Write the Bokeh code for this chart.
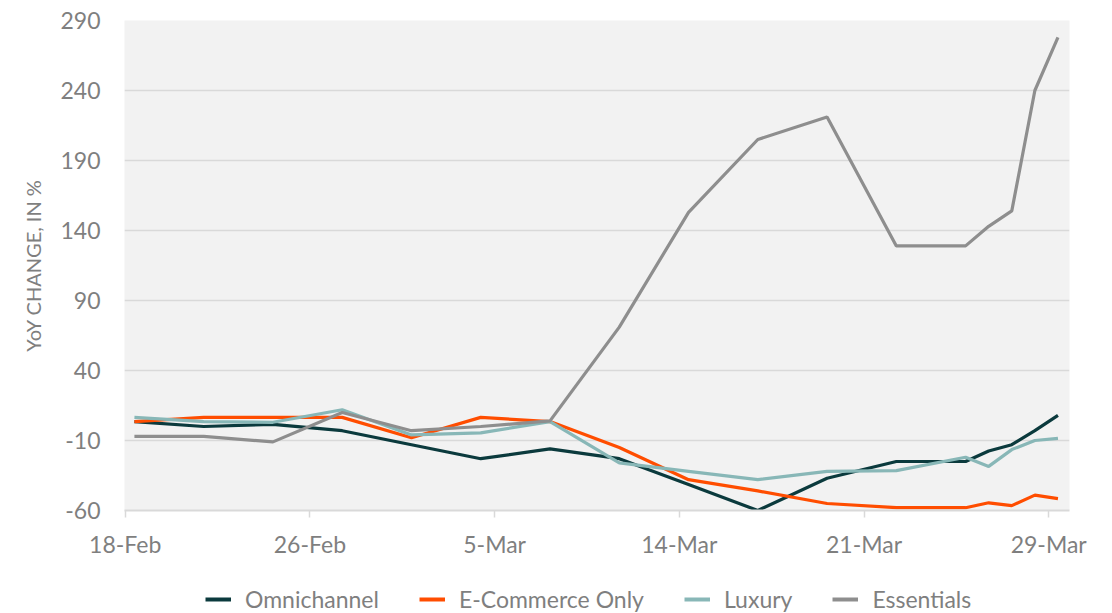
import pandas as pd
from bokeh.plotting import figure
from bokeh.layouts import column
from bokeh.models import Range1d, FixedTicker, Legend, LegendItem
from bokeh.embed import file_html
from bokeh.resources import INLINE

dates = ["2020-02-18", "2020-02-21", "2020-02-24", "2020-02-27", "2020-03-01",
         "2020-03-04", "2020-03-07", "2020-03-10", "2020-03-13", "2020-03-16",
         "2020-03-19", "2020-03-22", "2020-03-25", "2020-03-26", "2020-03-27",
         "2020-03-28", "2020-03-29"]
omnichannel = [3.5, 0, 1.5, -3, -13, -23, -16, -23, -41.5, -60, -37, -25, -25, -17.5, -13, -3, 8]
ecommerce = [3.5, 6.5, 6.5, 6.5, -8, 6.5, 3.5, -15, -38, -46, -55, -58, -58, -54.5, -56.5, -49, -51.5]
luxury = [6.5, 3.5, 3, 12, -6, -4.5, 3.5, -26, -32, -38, -32, -31.5, -22, -28.5, -16.5, -10, -8.5]
essentials = [-7, -7, -11, 10, -3, 0, 4, 71, 153, 205, 221, 129, 129, 143, 154, 240, 278]

tick_labels = ["18-Feb", "26-Feb", "5-Mar", "14-Mar", "21-Mar", "29-Mar"]
y_ticks = [-60, -10, 40, 90, 140, 190, 240, 290]

series_names = ["Omnichannel", "E-Commerce Only", "Luxury", "Essentials"]
series_colors = ["#0b3a3d", "#ff4d00", "#88b7b7", "#8e8e8e"]
series_values = [omnichannel, ecommerce, luxury, essentials]

d0 = pd.Timestamp(dates[0])
x = [(pd.Timestamp(d) - d0).days for d in dates]
tick_pos = [x[0] - 0.4 + 8 * i for i in range(len(tick_labels))]

TEXT = "#7f7f7f"
FONT = "Lato"

p = figure(width=1104, height=560, output_backend="svg", toolbar_location=None,
           x_range=Range1d(-0.43, 40.5), y_range=Range1d(-60, 290),
           background_fill_color="#f2f2f2", border_fill_color="white",
           min_border_left=124, min_border_right=35, min_border_top=20,
           min_border_bottom=47)
p.outline_line_color = None

# axes
p.xaxis.ticker = FixedTicker(ticks=tick_pos)
p.xaxis.major_label_overrides = {t: l for t, l in zip(tick_pos, tick_labels)}
p.xaxis.axis_line_color = "#d9d9d9"
p.xaxis.axis_line_width = 2
p.xaxis.major_tick_line_color = "#d9d9d9"
p.xaxis.major_tick_line_width = 1.5
p.xaxis.major_tick_in = 0
p.xaxis.major_tick_out = 7
p.xaxis.minor_tick_line_color = None
p.xaxis.major_label_standoff = 12

p.yaxis.ticker = FixedTicker(ticks=y_ticks)
p.yaxis.major_label_overrides = {v: str(v) for v in y_ticks}
p.yaxis.axis_line_color = None
p.yaxis.major_tick_line_color = None
p.yaxis.minor_tick_line_color = None
p.yaxis.major_label_standoff = 18
p.yaxis.axis_label = "YoY CHANGE, IN %"
p.yaxis.axis_label_standoff = 12
p.yaxis.axis_label_text_font_style = "normal"

for ax in (p.xaxis, p.yaxis):
    ax.major_label_text_font = FONT
    ax.major_label_text_font_size = "23px"
    ax.major_label_text_color = TEXT
    ax.axis_label_text_font = FONT
    ax.axis_label_text_font_size = "20px"
    ax.axis_label_text_color = TEXT

p.xgrid.grid_line_color = None
p.ygrid.grid_line_color = "#d9d9d9"
p.ygrid.grid_line_width = 1.5

for vals, col in zip(series_values, series_colors):
    p.line(x, vals, line_color=col, line_width=3.2)

# legend strip below the chart (its frame is aligned with the chart's frame)
lg = figure(width=1104, height=53, output_backend="svg", toolbar_location=None,
            x_range=Range1d(-0.43, 40.5), y_range=Range1d(-60, 290),
            x_axis_location=None, y_axis_location=None,
            min_border=0, border_fill_color="white", background_fill_color="white")
lg.outline_line_color = None
lg.grid.visible = False
items = []
for name, vals, col in zip(series_names, series_values, series_colors):
    r = lg.line(x, vals, line_color=col, line_width=4, visible=False)
    items.append(LegendItem(label=name, renderers=[r]))

legend = Legend(items=items, orientation="horizontal", location=(81, 0),
                label_text_font=FONT, label_text_font_size="23px", label_text_color=TEXT,
                glyph_width=26, glyph_height=20, label_standoff=14, spacing=40,
                padding=0, margin=0, border_line_color=None, background_fill_alpha=0)
lg.add_layout(legend, "center")

layout = column(p, lg, spacing=0)
open("out.html", "w").write(file_html(layout, INLINE))
